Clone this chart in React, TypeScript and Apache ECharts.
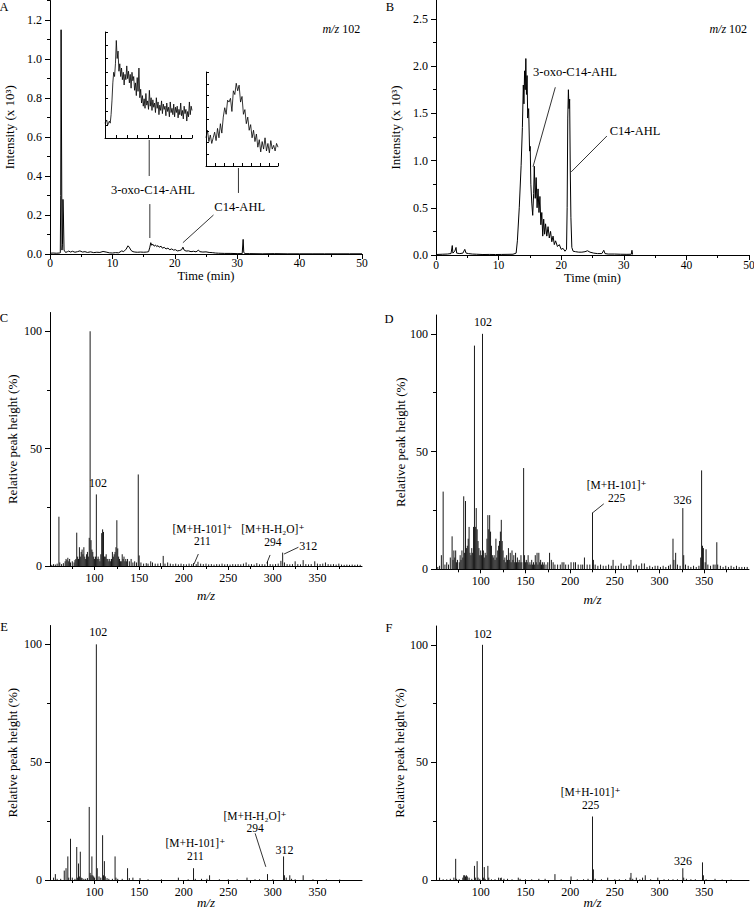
import { useEffect, useRef } from 'react';
import * as echarts from 'echarts';

const FONT = '"Liberation Serif", "DejaVu Serif", "Times New Roman", serif';

// ---------- Panel A: chromatogram (time min, intensity x10^3) ----------
const A_TRACE: number[][] = [
  [0, 0.004], [0.5, 0.005], [1.0, 0.004], [1.5, 0.005], [1.65, 0.006], [1.72, 0.3], [1.78, 1.15], [1.85, 0.6],
  [1.92, 0.02], [2.0, 0.05], [2.08, 0.28], [2.15, 0.2], [2.25, 0.02], [2.5, 0.008], [2.8, 0.012], [3.0, 0.015],
  [3.3, 0.01], [3.6, 0.014], [4.0, 0.009], [4.4, 0.012], [4.8, 0.016], [5.2, 0.01], [5.6, 0.012], [6.0, 0.008],
  [6.5, 0.011], [7.0, 0.007], [7.5, 0.009], [8.0, 0.008], [8.5, 0.013], [9.0, 0.01], [9.5, 0.006], [10.0, 0.005],
  [10.5, 0.007], [11.0, 0.006], [11.5, 0.016], [11.8, 0.012], [12.2, 0.025], [12.5, 0.042], [12.7, 0.035],
  [13.0, 0.018], [13.3, 0.012], [13.6, 0.01], [14.0, 0.009], [14.5, 0.01], [15.0, 0.009], [15.5, 0.01],
  [15.8, 0.012], [16.0, 0.035], [16.15, 0.058], [16.3, 0.045], [16.5, 0.05], [16.7, 0.04], [16.9, 0.046],
  [17.1, 0.038], [17.3, 0.043], [17.5, 0.035], [17.8, 0.04], [18.0, 0.03], [18.3, 0.034], [18.6, 0.026],
  [18.9, 0.03], [19.2, 0.022], [19.5, 0.026], [19.8, 0.02], [20.1, 0.022], [20.4, 0.016], [20.8, 0.018],
  [21.1, 0.022], [21.3, 0.035], [21.5, 0.02], [21.8, 0.015], [22.2, 0.016], [22.6, 0.012], [23.0, 0.014],
  [23.4, 0.011], [23.8, 0.02], [24.0, 0.012], [24.5, 0.01], [25.0, 0.011], [25.5, 0.008], [26.0, 0.007],
  [26.5, 0.005], [27.0, 0.004], [28.0, 0.003], [29.0, 0.003], [30.0, 0.002], [30.8, 0.002], [30.95, 0.075],
  [31.05, 0.01], [31.2, 0.002], [32, 0.002], [34, 0.001], [36, 0.002], [38, 0.001], [40, 0.001], [42, 0.001],
  [44, 0.001], [46, 0.001], [48, 0.001], [50, 0.001],
];

// Insets of panel A (relative units 0-100)
const INSET1_TRACE: number[][] = [
  [0, 14], [2, 17], [3, 12], [5, 16], [6, 14], [7, 22], [8, 35], [9, 52], [10, 62], [11, 58], [12, 70], [13, 92],
  [14, 75], [15, 82], [16, 63], [17, 70], [18, 58], [19, 66], [20, 55], [21, 62], [22, 50], [23, 60], [24, 55],
  [25, 68], [26, 56], [27, 63], [28, 52], [29, 60], [30, 47], [31, 62], [32, 54], [33, 58], [34, 45], [35, 52],
  [36, 40], [37, 57], [38, 44], [39, 66], [40, 38], [41, 46], [42, 33], [43, 40], [44, 30], [45, 37], [46, 28],
  [47, 42], [48, 31], [49, 35], [50, 27], [51, 45], [52, 30], [53, 38], [54, 26], [55, 36], [56, 29], [57, 33],
  [58, 24], [59, 38], [60, 28], [61, 34], [62, 22], [63, 31], [64, 26], [65, 35], [66, 23], [67, 32], [68, 27],
  [69, 30], [70, 21], [71, 33], [72, 25], [73, 29], [74, 20], [75, 34], [76, 24], [77, 28], [78, 22], [79, 32],
  [80, 20], [81, 29], [82, 24], [83, 30], [84, 19], [85, 27], [86, 22], [87, 33], [88, 21], [89, 26], [90, 18],
  [91, 30], [92, 23], [93, 27], [94, 16], [95, 25], [96, 20], [97, 34], [98, 22], [99, 30], [100, 26],
];
const INSET2_TRACE: number[][] = [
  [0, 30], [2, 38], [4, 26], [6, 33], [8, 24], [10, 30], [12, 36], [14, 27], [16, 40], [18, 30], [20, 45],
  [22, 35], [24, 52], [26, 62], [28, 55], [30, 70], [32, 68], [34, 72], [36, 58], [38, 80], [40, 76], [42, 88],
  [44, 80], [46, 86], [48, 68], [50, 74], [52, 55], [54, 60], [56, 45], [58, 52], [60, 38], [62, 44], [64, 30],
  [66, 38], [68, 26], [70, 34], [72, 20], [74, 28], [76, 15], [78, 26], [80, 18], [82, 30], [84, 16], [86, 24],
  [88, 14], [90, 27], [92, 18], [94, 22], [96, 16], [98, 24], [100, 20],
];

// ---------- Panel B: chromatogram ----------
const B_TRACE: number[][] = [
  [0, 0.005], [1.0, 0.008], [1.8, 0.01], [2.4, 0.015], [2.6, 0.1], [2.7, 0.02], [3.0, 0.04], [3.2, 0.08],
  [3.3, 0.02], [3.8, 0.015], [4.3, 0.02], [4.6, 0.06], [4.8, 0.02], [5.2, 0.015], [5.8, 0.01], [6.5, 0.008],
  [7.5, 0.005], [8.5, 0.006], [9.5, 0.005], [10.5, 0.006], [11.5, 0.007], [12.3, 0.008], [12.8, 0.02],
  [13.0, 0.15], [13.3, 0.5], [13.6, 0.95], [13.8, 1.35], [13.95, 1.8], [14.05, 1.6], [14.15, 1.95], [14.25, 1.75],
  [14.35, 2.08], [14.45, 1.7], [14.55, 1.9], [14.65, 1.45], [14.8, 1.55], [14.95, 1.1], [15.05, 1.15],
  [15.15, 0.75], [15.3, 0.55], [15.45, 0.42], [15.6, 0.65], [15.7, 0.94], [15.85, 0.6], [16.0, 0.82],
  [16.15, 0.5], [16.3, 0.7], [16.45, 0.45], [16.6, 0.62], [16.75, 0.32], [16.9, 0.45], [17.05, 0.2],
  [17.2, 0.38], [17.35, 0.22], [17.5, 0.33], [17.7, 0.2], [17.9, 0.3], [18.1, 0.18], [18.3, 0.25], [18.5, 0.14],
  [18.7, 0.2], [18.9, 0.11], [19.1, 0.15], [19.4, 0.09], [19.7, 0.11], [20.0, 0.06], [20.3, 0.07], [20.6, 0.04],
  [20.85, 0.06], [20.95, 0.5], [21.05, 1.45], [21.15, 1.75], [21.25, 1.55], [21.35, 1.65], [21.45, 0.9],
  [21.55, 0.4], [21.7, 0.08], [21.9, 0.04], [22.3, 0.035], [22.8, 0.03], [23.3, 0.03], [23.8, 0.035],
  [24.2, 0.045], [24.6, 0.03], [25.2, 0.02], [25.8, 0.015], [26.5, 0.015], [26.8, 0.05], [27.0, 0.015],
  [27.5, 0.01], [28.5, 0.01], [29.5, 0.008], [30.5, 0.007], [31.2, 0.008], [31.3, 0.05], [31.4, 0.005],
];

// ---------- Mass spectra (m/z, relative peak height %) ----------
const C_PEAKS: number[][] = [
  [52, 0.5], [54, 0.8], [56, 0.6], [58, 1], [60, 21], [61, 1.5], [63, 0.8], [65, 1.2], [67, 2], [68, 3], [69, 2.5],
  [70, 3.5], [71, 2], [72, 3], [73, 1.5], [75, 2], [77, 1.5], [78, 2.5], [79, 3], [80, 14.2], [81, 4], [82, 3],
  [83, 8], [84, 4], [85, 6], [86, 7], [87, 5], [88, 8], [89, 4], [90, 3], [91, 5], [92, 6], [93, 4], [94, 12],
  [95, 100], [96, 11], [97, 7], [98, 6], [99, 4], [100, 3], [101, 4], [102, 30.5], [103, 3], [104, 4], [105, 3],
  [106, 2], [107, 5], [108, 14], [109, 15.6], [110, 14.5], [111, 4], [112, 4], [113, 5], [114, 3], [115, 3],
  [116, 2], [117, 3], [118, 2], [119, 3], [120, 6], [121, 4], [122, 5], [123, 6], [124, 8], [125, 19.5],
  [126, 7.5], [127, 4], [128, 3], [129, 2], [130, 2], [131, 5], [132, 3], [133, 4], [134, 2], [135, 3], [136, 2],
  [137, 3], [139, 2], [141, 3], [143, 1.5], [145, 2], [147, 1.5], [149, 39], [150, 4.5], [152, 1.5], [155, 1],
  [158, 1.2], [160, 1], [163, 2], [165, 1.5], [168, 1], [171, 1], [174, 1.2], [177, 4.3], [179, 1], [182, 1.5],
  [185, 1], [188, 0.8], [191, 1], [194, 0.7], [197, 1], [200, 0.8], [203, 0.7], [206, 1], [209, 0.8], [211, 1.2],
  [214, 0.8], [216, 1.8], [219, 1], [222, 0.8], [225, 1], [228, 0.7], [231, 0.8], [234, 0.6], [237, 0.8],
  [240, 0.7], [243, 1], [246, 0.7], [249, 0.8], [252, 0.6], [255, 0.8], [258, 0.7], [261, 0.8], [264, 0.7],
  [267, 1], [270, 1.5], [273, 0.7], [276, 0.8], [279, 0.6], [282, 1.2], [285, 0.7], [288, 0.8], [291, 0.7],
  [294, 2], [297, 0.8], [300, 0.7], [303, 0.8], [306, 1], [309, 2.2], [311, 5.7], [313, 1.5], [316, 0.8],
  [319, 0.7], [322, 0.8], [325, 2], [328, 0.8], [331, 0.7], [334, 2.5], [337, 0.8], [340, 0.7], [343, 0.8],
  [347, 2], [350, 1], [353, 0.8], [356, 1], [359, 1.5], [362, 0.8], [365, 0.7], [368, 0.8], [371, 0.6], [374, 1],
  [377, 0.6], [380, 0.5], [383, 0.6], [386, 0.5], [389, 0.6], [392, 0.5], [395, 0.6], [398, 0.5],
];

const D_PEAKS: number[][] = [
  [52, 1], [54, 1.5], [56, 6], [58, 33], [60, 2], [62, 3], [64, 2], [66, 5], [68, 14], [69, 4], [70, 8], [71, 5],
  [72, 8], [73, 3], [74, 4], [76, 3], [77, 6], [78, 4], [79, 8], [80, 5], [81, 31], [82, 7], [83, 29], [84, 9],
  [85, 10], [86, 13], [87, 18], [88, 7], [89, 6], [90, 9], [91, 7], [92, 18], [93, 95], [94, 18], [95, 26],
  [96, 17], [97, 12], [98, 9], [99, 6], [100, 8], [101, 6], [102, 100], [103, 8], [104, 5], [105, 7], [106, 6],
  [107, 13], [108, 23], [109, 17], [110, 23], [111, 16], [112, 10], [113, 6], [114, 5], [115, 6], [116, 4],
  [117, 13], [118, 5], [119, 8], [120, 10], [121, 12], [122, 16], [123, 21], [124, 12], [125, 8], [126, 4],
  [127, 5], [128, 3], [129, 6], [130, 4], [131, 9], [132, 4], [133, 7], [134, 3], [135, 8], [136, 4], [137, 6],
  [138, 3], [139, 7], [140, 3], [141, 5], [142, 3], [143, 4], [144, 3], [145, 6], [146, 3], [148, 43], [149, 6],
  [150, 3], [151, 4], [152, 3], [153, 6], [154, 2], [155, 3], [156, 2], [157, 4], [158, 2], [159, 3], [160, 2],
  [161, 6], [162, 3], [163, 7], [164, 2], [165, 7], [166, 3], [167, 4], [168, 2], [169, 3], [170, 2], [171, 3],
  [173, 2], [175, 3], [177, 7], [179, 4], [181, 3], [183, 2], [186, 2], [189, 2], [191, 3], [193, 3], [195, 2],
  [198, 2], [201, 3], [204, 3], [206, 3], [209, 2], [212, 2], [214, 2], [216, 5], [219, 2], [222, 2], [225, 24],
  [226, 4], [228, 2], [231, 1.5], [234, 2], [237, 1.5], [240, 1.5], [243, 2], [246, 1.5], [248, 4], [251, 1.5],
  [254, 1.5], [257, 2.5], [260, 1.5], [263, 1.5], [266, 2], [268, 4], [271, 1.5], [274, 2], [277, 1.5],
  [280, 2.5], [283, 2.5], [286, 1], [289, 1.5], [292, 1], [295, 1.5], [298, 1.5], [301, 1], [304, 1.5], [307, 1],
  [310, 1.5], [312, 2], [315, 13], [316, 4], [318, 7], [320, 2], [323, 1.5], [326, 26], [327, 6], [329, 2],
  [332, 1.5], [335, 1], [338, 1.5], [341, 1], [344, 1.5], [346, 5], [347, 42], [348, 10], [349, 9], [351, 3],
  [352, 8.5], [354, 2], [357, 1.5], [360, 2], [362, 2], [364, 11.5], [365, 2], [368, 1.5], [371, 1], [374, 1.5],
  [377, 1], [380, 1.5], [383, 1], [386, 1.5], [389, 1], [392, 1], [395, 1], [398, 1],
];

const E_PEAKS: number[][] = [
  [54, 1], [56, 2.5], [58, 0.5], [62, 0.5], [66, 4], [68, 5], [70, 10], [71, 1], [73, 17.5], [75, 1], [78, 0.5],
  [80, 14], [81, 1], [82, 7], [83, 1.5], [84, 12], [85, 1], [86, 0.8], [88, 0.5], [90, 0.5], [92, 0.8], [94, 31],
  [95, 3], [96, 2], [97, 10], [98, 2], [99, 1.5], [100, 1], [102, 100], [103, 5], [105, 1.5], [107, 1], [109, 19],
  [110, 2], [111, 8], [112, 1.5], [114, 0.8], [116, 0.5], [120, 0.5], [123, 10], [124, 1], [126, 0.5], [131, 0.5],
  [137, 5], [139, 0.8], [143, 1], [151, 0.8], [160, 0.3], [175, 0.3], [194, 1], [205, 0.3], [211, 5], [213, 0.5],
  [220, 0.5], [226, 0.5], [229, 2], [240, 0.3], [250, 0.3], [260, 0.3], [271, 1], [280, 0.3], [285, 0.3],
  [294, 2.5], [300, 0.3], [312, 10], [313, 2], [315, 1], [319, 2], [321, 0.5], [325, 0.3], [334, 2], [345, 0.3],
  [360, 0.3], [375, 0.2],
];

const F_PEAKS: number[][] = [
  [54, 1], [58, 0.3], [62, 0.3], [66, 0.5], [70, 1], [72, 9], [73, 0.5], [76, 0.3], [80, 1], [81, 2], [82, 2],
  [83, 1.5], [84, 2], [85, 1.5], [87, 1], [90, 0.5], [93, 6], [94, 1], [96, 8], [97, 1], [99, 0.5], [102, 100],
  [103, 1], [104, 5.5], [105, 0.5], [108, 6], [109, 1], [112, 0.3], [116, 0.3], [120, 1], [122, 0.8], [123, 1],
  [126, 0.5], [130, 0.5], [135, 0.3], [142, 1], [144, 0.5], [150, 0.3], [157, 0.3], [165, 0.5], [172, 0.5],
  [183, 2.5], [190, 0.3], [201, 1.5], [208, 0.3], [215, 0.3], [220, 0.5], [225, 27], [226, 4.5], [228, 0.5],
  [235, 0.3], [242, 1], [250, 0.3], [255, 0.3], [262, 0.3], [267, 1], [268, 3], [270, 0.5], [274, 1], [278, 0.3],
  [281, 1], [284, 2], [290, 0.3], [298, 1], [305, 0.3], [310, 0.3], [315, 0.3], [320, 0.3], [326, 5], [327, 1],
  [330, 0.5], [335, 0.3], [340, 0.3], [348, 7.5], [349, 2], [352, 0.3], [362, 0.5], [370, 0.2], [380, 0.2],
];

// ---------- Tick labels ----------
const A_Y_TICKS = [0, 0.2, 0.4, 0.6, 0.8, 1.0, 1.2];
const B_Y_TICKS = [0, 0.5, 1.0, 1.5, 2.0, 2.5];
const TIME_TICKS = [0, 10, 20, 30, 40, 50];
const MZ_TICKS = [100, 150, 200, 250, 300, 350];
const PCT_TICKS = [0, 50, 100];

// ---------- Annotations (data coordinates of each panel) ----------
const LABELS = [
  { g: 0, text: '3-oxo-C14-AHL', x: 16.5, y: 0.328, size: 12.5 },
  { g: 0, text: 'C14-AHL', x: 30.4, y: 0.241, size: 12.5 },
  { g: 0, text: '{i|m/z} 102', x: 49.7, y: 1.154, size: 12, align: 'right' },
  { g: 1, text: '3-oxo-C14-AHL', x: 22.2, y: 1.94, size: 12.5 },
  { g: 1, text: 'C14-AHL', x: 31.8, y: 1.31, size: 12.5 },
  { g: 1, text: '{i|m/z} 102', x: 49.7, y: 2.39, size: 12, align: 'right' },
  { g: 2, text: '102', x: 103.9, y: 35.4, size: 12 },
  { g: 2, text: '[M+H-101]⁺\n211', x: 221, y: 13.3, size: 11.5 },
  { g: 2, text: '[M+H-H₂O]⁺\n294', x: 300, y: 12.9, size: 11.5 },
  { g: 2, text: '312', x: 339.6, y: 8.5, size: 12 },
  { g: 3, text: '102', x: 102.6, y: 105, size: 12 },
  { g: 3, text: '[M+H-101]⁺\n225', x: 252, y: 33.1, size: 11.5 },
  { g: 3, text: '326', x: 325.5, y: 29.5, size: 12 },
  { g: 4, text: '102', x: 104.2, y: 105.1, size: 12 },
  { g: 4, text: '[M+H-101]⁺\n211', x: 213, y: 12.85, size: 11.5 },
  { g: 4, text: '[M+H-H₂O]⁺\n294', x: 280, y: 24.55, size: 11.5 },
  { g: 4, text: '312', x: 313, y: 12.7, size: 12 },
  { g: 5, text: '102', x: 102.3, y: 104.7, size: 12 },
  { g: 5, text: '[M+H-101]⁺\n225', x: 222.8, y: 34.6, size: 11.5 },
  { g: 5, text: '326', x: 326.3, y: 8.2, size: 12 },
];
const LEADERS = [
  [0, 15.9, 0.585, 15.9, 0.4], [0, 16.0, 0.256, 16.0, 0.082], [0, 30.2, 0.441, 30.2, 0.313],
  [0, 26.2, 0.2, 21.3, 0.058],
  [1, 19.06, 1.776, 15.5, 0.935], [1, 27.3, 1.26, 21.6, 0.88],
  [2, 216.4, 5.1, 211.6, 0.85], [2, 296.9, 4.7, 293.2, 1.15], [2, 328.7, 8.0, 312.6, 5.1],
  [3, 237.6, 27.8, 224.5, 23.8],
  [4, 280.1, 19.8, 292.1, 5.6],
];
const PANEL_LETTERS = [
  { t: 'A', x: 4, y: 7 }, { t: 'B', x: 390, y: 7 }, { t: 'C', x: 4, y: 318 },
  { t: 'D', x: 389, y: 319 }, { t: 'E', x: 4, y: 627 }, { t: 'F', x: 389, y: 628 },
];

// ---------- layout ----------
const GRIDS = [
  { left: 50, top: 0.5, width: 312, height: 253.5 },
  { left: 436, top: 0, width: 313, height: 255 },
  { left: 50, top: 312.5, width: 312, height: 253.5 },
  { left: 436, top: 315, width: 313, height: 254.3 },
  { left: 50, top: 625.5, width: 312, height: 254.5 },
  { left: 436, top: 626, width: 313, height: 254 },
  { left: 105, top: 32, width: 87, height: 106 },
  { left: 206, top: 72, width: 72, height: 94 },
];

function axis(gridIndex: number, o: any) {
  return {
    type: 'value',
    gridIndex,
    min: o.min,
    max: o.max,
    interval: o.interval,
    axisLine: { show: true, onZero: false, lineStyle: { color: '#000', width: 1 } },
    axisTick: {
      show: true,
      inside: !!o.inside,
      length: o.tickLen ?? 5,
      lineStyle: { color: '#000', width: 1 },
      ...(o.ticks ? { customValues: o.ticks } : {}),
    },
    minorTick: { show: !!o.minor, splitNumber: 2, length: 3, lineStyle: { color: '#000', width: 1 } },
    axisLabel: o.labels
      ? {
          show: true,
          customValues: o.labels,
          formatter: o.fmt,
          fontFamily: FONT,
          fontSize: o.labelSize ?? 12,
          lineHeight: o.labelSize ?? 12,
          color: '#000',
          margin: o.margin ?? 8,
        }
      : { show: false },
    splitLine: { show: false },
    name: o.name,
    nameLocation: 'middle',
    nameGap: o.nameGap,
    nameMoveOverlap: false,
    nameTextStyle: {
      fontFamily: FONT,
      fontSize: o.nameSize ?? 13,
      lineHeight: o.nameSize ?? 13,
      color: '#000',
      fontStyle: o.italic ? 'italic' : 'normal',
    },
  };
}

function stickSeries(idx: number, data: number[][]) {
  return {
    type: 'custom',
    xAxisIndex: idx,
    yAxisIndex: idx,
    encode: { x: 0, y: 1 },
    data,
    renderItem: (_p: any, api: any) => {
      const p0 = api.coord([api.value(0), 0]);
      const p1 = api.coord([api.value(0), api.value(1)]);
      return {
        type: 'line',
        shape: { x1: p0[0], y1: p0[1], x2: p1[0], y2: p1[1] },
        style: { stroke: '#1a1a1a', lineWidth: 1 },
      };
    },
  };
}

function lineSeries(idx: number, data: number[][], width = 1) {
  return {
    type: 'line',
    xAxisIndex: idx,
    yAxisIndex: idx,
    data,
    symbol: 'none',
    showSymbol: false,
    lineStyle: { color: '#000', width },
    z: 3,
  };
}

function buildOption() {
  const xAxes: any[] = [
    axis(0, { min: 0, max: 50, interval: 10, minor: true, labels: TIME_TICKS, labelSize: 11.5, margin: 3, name: 'Time (min)', nameSize: 12.5, nameGap: 16 }),
    axis(1, { min: 0, max: 50, interval: 10, minor: true, labels: TIME_TICKS, labelSize: 11.5, margin: 4, name: 'Time (min)', nameSize: 12.5, nameGap: 17 }),
  ];
  const yAxes: any[] = [
    axis(0, { min: 0, max: 1.3, interval: 0.2, minor: true, ticks: A_Y_TICKS, labels: A_Y_TICKS, fmt: (v: number) => v.toFixed(1), name: 'Intensity (x 10³)', nameGap: 34 }),
    axis(1, { min: 0, max: 2.7, interval: 0.5, minor: true, ticks: B_Y_TICKS, labels: B_Y_TICKS, fmt: (v: number) => v.toFixed(1), name: 'Intensity (x 10³)', nameGap: 34 }),
  ];
  const specGaps = [
    { xg: 23, yg: 31 },
    { xg: 24, yg: 29 },
    { xg: 16, yg: 31 },
    { xg: 16, yg: 30 },
  ];
  for (let i = 0; i < 4; i++) {
    xAxes.push(axis(2 + i, { min: 50, max: 400, interval: 50, minor: true, ticks: MZ_TICKS, labels: MZ_TICKS, tickLen: 4, margin: 6, name: 'm/z', italic: true, nameGap: specGaps[i].xg }));
    yAxes.push(axis(2 + i, { min: 0, max: 108, interval: 50, minor: true, ticks: PCT_TICKS, labels: PCT_TICKS, name: 'Relative peak height (%)', nameGap: specGaps[i].yg }));
  }
  // insets
  for (let i = 0; i < 2; i++) {
    xAxes.push(axis(6 + i, { min: 0, max: 100, interval: 12.5, inside: true, tickLen: 3 }));
    yAxes.push(axis(6 + i, { min: 0, max: 100, interval: 12.5, inside: true, tickLen: 3 }));
  }
  return {
    animation: false,
    backgroundColor: '#fff',
    textStyle: { fontFamily: FONT },
    grid: GRIDS.map((g) => ({ ...g, containLabel: false, outerBoundsMode: 'none', show: false })),
    xAxis: xAxes,
    yAxis: yAxes,
    series: [
      lineSeries(0, A_TRACE, 1),
      lineSeries(1, B_TRACE, 1),
      stickSeries(2, C_PEAKS),
      stickSeries(3, D_PEAKS),
      stickSeries(4, E_PEAKS),
      stickSeries(5, F_PEAKS),
      lineSeries(6, INSET1_TRACE, 0.8),
      lineSeries(7, INSET2_TRACE, 0.8),
    ],
  };
}

export default function App() {
  const ref = useRef<HTMLDivElement>(null);
  useEffect(() => {
    document.body.style.margin = '0';
    const chart = echarts.init(ref.current!, null, { renderer: 'svg', width: 754, height: 915 });
    chart.setOption(buildOption() as any);
    const graphics: any[] = [];
    for (const a of LABELS) {
      const p = chart.convertToPixel({ gridIndex: a.g } as any, [a.x, a.y]) as number[];
      const al = (a as any).align || 'center';
      graphics.push({
        type: 'text',
        x: p[0],
        y: p[1],
        z: 10,
        style: {
          text: a.text,
          fill: '#000',
          fontFamily: FONT,
          fontSize: a.size,
          lineHeight: 12.5,
          align: al,
          textAlign: al,
          verticalAlign: 'middle',
          textVerticalAlign: 'middle',
          rich: { i: { fontStyle: 'italic', fontFamily: FONT, fontSize: a.size } },
        },
      });
    }
    for (const l of LEADERS) {
      const p1 = chart.convertToPixel({ gridIndex: l[0] } as any, [l[1], l[2]]) as number[];
      const p2 = chart.convertToPixel({ gridIndex: l[0] } as any, [l[3], l[4]]) as number[];
      graphics.push({
        type: 'line',
        z: 10,
        shape: { x1: p1[0], y1: p1[1], x2: p2[0], y2: p2[1] },
        style: { stroke: '#000', lineWidth: 0.8 },
      });
    }
    for (const pl of PANEL_LETTERS) {
      graphics.push({
        type: 'text',
        x: pl.x,
        y: pl.y,
        style: {
          text: pl.t,
          fill: '#000',
          fontFamily: FONT,
          fontSize: 12.5,
          align: 'center',
          textAlign: 'center',
          verticalAlign: 'middle',
          textVerticalAlign: 'middle',
        },
      });
    }
    chart.setOption({ graphic: graphics } as any);
    return () => chart.dispose();
  }, []);
  return (
    <div
      ref={ref}
      style={{ position: 'absolute', left: 0, top: 0, width: 754, height: 915, background: '#fff' }}
    />
  );
}
